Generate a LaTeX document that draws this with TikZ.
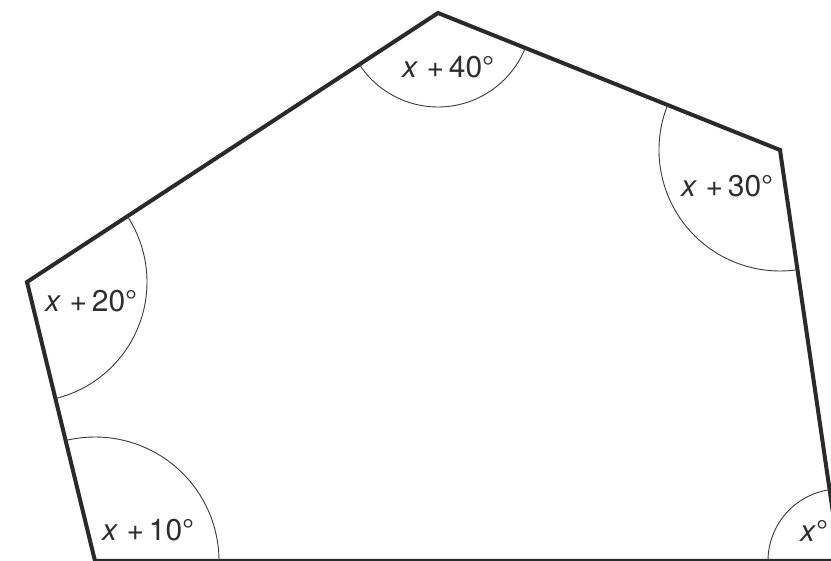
\documentclass[tikz,border=0pt]{standalone}
\usepackage{fontspec}
\setmainfont{TeX Gyre Heros}
\usetikzlibrary{angles}
\definecolor{edgecol}{HTML}{2A2A2A}
\definecolor{arccol}{HTML}{3A3A3A}
\definecolor{txtcol}{HTML}{2E2E2E}
\tikzset{
  edge/.style={draw=edgecol, line width=4pt, line join=miter},
  anglearc/.style={draw=arccol, line width=0.9pt},
  lbl/.style={anchor=base west, inner sep=0pt, text=txtcol, font=\fontsize{30}{30}\selectfont},
}
\newcommand{\angtxt}[1]{\textit{x}\hspace{0.28em}+\hspace{0.16em}#1°}
\begin{document}
\begin{tikzpicture}[x=1pt,y=1pt]
  \useasboundingbox (0,0) rectangle (831,561);
  \clip (0,0) rectangle (831,561);
  \fill[white] (0,0) rectangle (831,561);
  \coordinate (V1) at (438,548);
  \coordinate (V2) at (780,411);
  \coordinate (V3) at (840,0);
  \coordinate (V5) at (95,0);
  \coordinate (V6) at (27,279);
  \draw[edge] (V5) -- (V3) -- (V2) -- (V1) -- (V6) -- cycle;
  \pic[anglearc, angle radius=124pt] {angle = V3--V5--V6};
  \pic[anglearc, angle radius=72pt] {angle = V2--V3--V5};
  \pic[anglearc, angle radius=121pt] {angle = V1--V2--V3};
  \pic[anglearc, angle radius=94pt] {angle = V6--V1--V2};
  \pic[anglearc, angle radius=120pt] {angle = V5--V6--V1};
  \node[lbl] (L40) at (402,483) {\angtxt{40}};
  \node[lbl] (L30) at (681,364) {\angtxt{30}};
  \node[lbl] (L20) at (45,249) {\angtxt{20}};
  \node[lbl] (L10) at (102,20) {\angtxt{10}};
  \node[lbl] (L0) at (800,19) {\textit{x}°};
\end{tikzpicture}
\end{document}
